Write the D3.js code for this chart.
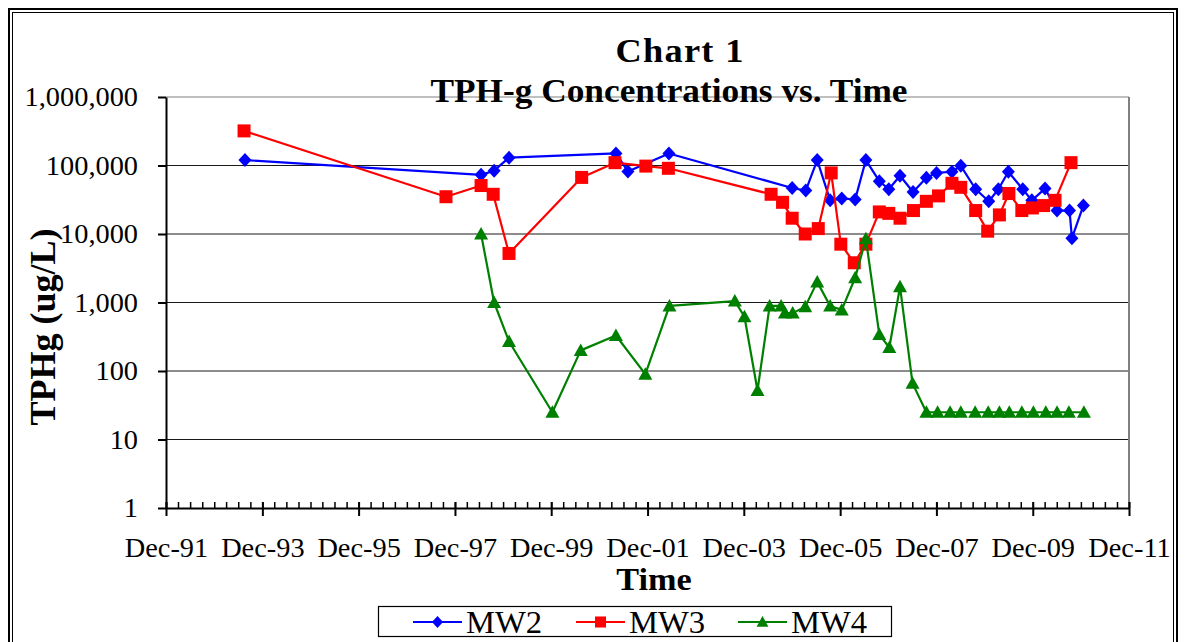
<!DOCTYPE html>
<html>
<head>
<meta charset="utf-8">
<script src="https://cdn.jsdelivr.net/npm/d3@7"></script>
<style>
  html, body { margin: 0; padding: 0; background: #fff; }
  svg { display: block; }
  text { font-family: "Liberation Serif", "Times New Roman", serif; }
</style>
</head>
<body>
<svg id="chart" width="1185" height="642"></svg>
<script>
// ---------- data ----------
const mw2Dates = ["1993-07-22","1998-06-17","1998-09-24","1999-01-15","2001-04-05","2001-07-05","2002-05-12",
  "2004-12-02","2005-03-15","2005-06-10","2005-09-16","2005-12-13","2006-03-25","2006-06-14","2006-09-24",
  "2006-12-05","2007-02-28","2007-06-07","2007-09-16","2007-12-02","2008-03-28","2008-06-03","2008-09-24",
  "2009-01-01","2009-03-15","2009-05-30","2009-09-16","2009-11-24","2010-03-04","2010-06-03","2010-09-06",
  "2010-09-24","2010-12-20"];
const mw2Values = [120000,73000,84000,130000,150000,82000,150000,
  47000,43000,120000,31000,33000,32000,120000,59000,
  45000,71000,41000,66000,78000,81000,99000,45000,
  30000,45000,81000,45000,31000,46000,22000,22000,
  8700,26000];

const mw3Dates = ["1993-07-15","1997-09-24","1998-06-17","1998-09-17","1999-01-15","2000-07-19","2001-03-29",
  "2001-11-18","2002-05-08","2004-06-25","2004-09-20","2004-12-02","2005-03-11","2005-06-18","2005-09-24",
  "2005-12-06","2006-03-18","2006-06-14","2006-09-24","2006-12-05","2007-02-28","2007-06-10","2007-09-16",
  "2007-12-17","2008-03-28","2008-06-03","2008-09-24","2008-12-24","2009-03-23","2009-06-03","2009-09-09",
  "2009-11-28","2010-02-21","2010-05-19","2010-09-17"];
const mw3Values = [320000,35000,51000,38000,5200,67000,110000,
  98000,91000,38000,29000,17000,10000,12000,78000,
  7100,3800,7100,21000,20000,17000,22000,30000,
  36000,55000,48000,22000,11000,19000,39000,22000,
  24000,26000,31000,110000];

const mw4Dates = ["1998-06-17","1998-09-24","1999-01-15","1999-12-10","2000-07-12","2001-04-05","2001-11-14",
  "2002-05-16","2003-09-24","2003-12-06","2004-03-14","2004-06-14","2004-09-09","2004-10-08","2004-12-06",
  "2005-03-11","2005-06-10","2005-09-16","2005-12-13","2006-03-25","2006-06-14","2006-09-24","2006-12-09",
  "2007-02-28","2007-06-03","2007-09-16","2007-12-10","2008-03-14","2008-06-03","2008-09-20","2008-12-28",
  "2009-03-23","2009-06-06","2009-09-09","2009-12-06","2010-03-10","2010-06-03","2010-09-01","2010-12-24"];
const mw4Values = [10000,1000,270,25,200,330,90,
  890,1050,620,52,890,890,700,700,
  870,2000,890,780,2300,8500,340,220,
  1700,66,25,25,25,25,25,25,
  25,25,25,25,25,25,25,25];

const seriesNames = ["MW2","MW3","MW4"];
const seriesColors = ["#0000FF","#FF0000","#008000"];
const yTickValues = [1,10,100,1000,10000,100000,1000000];
const xDomain = ["1991-12-01","2011-12-01"];
const chartTitle = ["Chart 1","TPH-g Concentrations vs. Time"];
const xTitle = "Time";
const yTitle = "TPHg (ug/L)";

// ---------- layout ----------
const parse = d3.timeParse("%Y-%m-%d");
const plot = {left: 166, right: 1129, top: 97, bottom: 508};
const FONT = "'Liberation Serif', 'Times New Roman', serif";
const SX = 1.07; // horizontal stretch of the original picture's text

const svg = d3.select("#chart");

// outer frame (double line)
svg.append("rect").attr("x", 9).attr("y", 9).attr("width", 1168).attr("height", 660)
  .attr("fill", "none").attr("stroke", "#000").attr("stroke-width", 2);
svg.append("rect").attr("x", 12.5).attr("y", 12.5).attr("width", 1161).attr("height", 650)
  .attr("fill", "none").attr("stroke", "#000").attr("stroke-width", 1);

const x = d3.scaleTime().domain(xDomain.map(parse)).range([plot.left, plot.right]);
const y = d3.scaleLog().domain([1, 1000000]).range([plot.bottom, plot.top]);

// gridlines
svg.append("g").selectAll("line").data(yTickValues.slice(1)).join("line")
  .attr("x1", plot.left).attr("x2", plot.right)
  .attr("y1", d => y(d)).attr("y2", d => y(d))
  .attr("stroke", (d, i) => i === yTickValues.length - 2 ? "#808080" : "#1a1a1a")
  .attr("stroke-width", 1.2);

// right plot border
svg.append("line").attr("x1", plot.right).attr("x2", plot.right)
  .attr("y1", plot.top).attr("y2", plot.bottom)
  .attr("stroke", "#808080").attr("stroke-width", 2);

// y axis
const yAxis = d3.axisLeft(y).tickValues(yTickValues).tickFormat(d3.format(","))
  .tickSizeInner(8).tickSizeOuter(0).tickPadding(20);
const gy = svg.append("g").attr("transform", `translate(${plot.left},0)`).call(yAxis);
gy.select(".domain").attr("stroke", "#000").attr("stroke-width", 2);
gy.selectAll(".tick line").attr("stroke", "#000").attr("stroke-width", 2);
gy.selectAll(".tick text").attr("font-size", 26.5).attr("fill", "#000")
  .attr("font-family", FONT).attr("x", null).attr("dy", null)
  .attr("transform", `translate(-28,8.5) scale(${SX},1)`);

// x axis ticks
const xStart = parse(xDomain[0]);
const xEnd = d3.timeDay.offset(parse(xDomain[1]), 1);
const minorTicks = d3.timeMonth.range(xStart, xEnd, 3);
const majorTicks = d3.timeMonth.range(xStart, xEnd, 24);

// minor (every 3 months, inside)
const xMinor = d3.axisBottom(x).tickValues(minorTicks).tickSizeInner(-6).tickSizeOuter(0).tickFormat("");
const gxm = svg.append("g").attr("transform", `translate(0,${plot.bottom})`).call(xMinor);
gxm.select(".domain").remove();
gxm.selectAll(".tick line").attr("stroke", "#000").attr("stroke-width", 1.5);

// major (every 2 years, crossing)
const xAxis = d3.axisBottom(x).tickValues(majorTicks).tickFormat(d3.timeFormat("%b-%y"))
  .tickSizeInner(8).tickSizeOuter(0);
const gx = svg.append("g").attr("transform", `translate(0,${plot.bottom})`).call(xAxis);
gx.select(".domain").attr("stroke", "#000").attr("stroke-width", 2);
gx.selectAll(".tick line").attr("y1", -6).attr("stroke", "#000").attr("stroke-width", 2);
gx.selectAll(".tick text").attr("font-size", 26.5).attr("fill", "#000")
  .attr("font-family", FONT).attr("y", null).attr("dy", null)
  .attr("transform", `translate(0,49) scale(${SX},1)`);

// ---------- markers ----------
function markerPath(kind) {
  if (kind === 0) return "M0,-7L6.5,0L0,7L-6.5,0Z";          // diamond
  if (kind === 1) return "M-6.5,-6.5H6.5V6.5H-6.5Z";         // square
  return "M0,-7L7,5.5L-7,5.5Z";                              // triangle
}

const series = [
  {name: seriesNames[0], dates: mw2Dates, values: mw2Values},
  {name: seriesNames[1], dates: mw3Dates, values: mw3Values},
  {name: seriesNames[2], dates: mw4Dates, values: mw4Values}
];

const line = d3.line().x(d => x(d.date)).y(d => y(d.value));

series.forEach((s, i) => {
  const pts = s.dates.map((d, j) => ({date: parse(d), value: s.values[j]}));
  const g = svg.append("g");
  g.append("path").datum(pts).attr("d", line)
    .attr("fill", "none").attr("stroke", seriesColors[i]).attr("stroke-width", 2.2)
    .attr("stroke-linejoin", "round");
  g.selectAll("path.m").data(pts).join("path").attr("class", "m")
    .attr("transform", d => `translate(${x(d.date)},${y(d.value)})`)
    .attr("d", markerPath(i)).attr("fill", seriesColors[i]);
});

// ---------- titles ----------
function stretchedText(tx, ty, size, str, extra) {
  const t = svg.append("text").attr("transform", `translate(${tx},${ty}) scale(${SX},1)`)
    .attr("text-anchor", "middle").attr("font-size", size).attr("font-weight", "bold").text(str);
  if (extra) extra(t);
  return t;
}
stretchedText(680, 62, 34, chartTitle[0], t => t.attr("letter-spacing", 1.2));
stretchedText(669, 102, 33, chartTitle[1]);
stretchedText(654, 590, 32, xTitle);
svg.append("text").attr("transform", "translate(55,327) rotate(-90)").attr("text-anchor", "middle")
  .attr("font-size", 36).attr("font-weight", "bold").text(yTitle);

// ---------- legend ----------
const lg = svg.append("g");
lg.append("rect").attr("x", 378.5).attr("y", 606.5).attr("width", 513).attr("height", 30)
  .attr("fill", "#fff").attr("stroke", "#000").attr("stroke-width", 1.2);
const legendX = [413, 576, 738];
seriesNames.forEach((n, i) => {
  const lx = legendX[i], ly = 622;
  lg.append("line").attr("x1", lx).attr("x2", lx + 49).attr("y1", ly).attr("y2", ly)
    .attr("stroke", seriesColors[i]).attr("stroke-width", 2.2);
  lg.append("path").attr("transform", `translate(${lx + 24.5},${ly}) scale(0.85)`).attr("d", markerPath(i))
    .attr("fill", seriesColors[i]);
  lg.append("text").attr("transform", `translate(${lx + 53},633) scale(${SX},1)`)
    .attr("font-size", 30.5).text(n);
});
</script>
</body>
</html>
